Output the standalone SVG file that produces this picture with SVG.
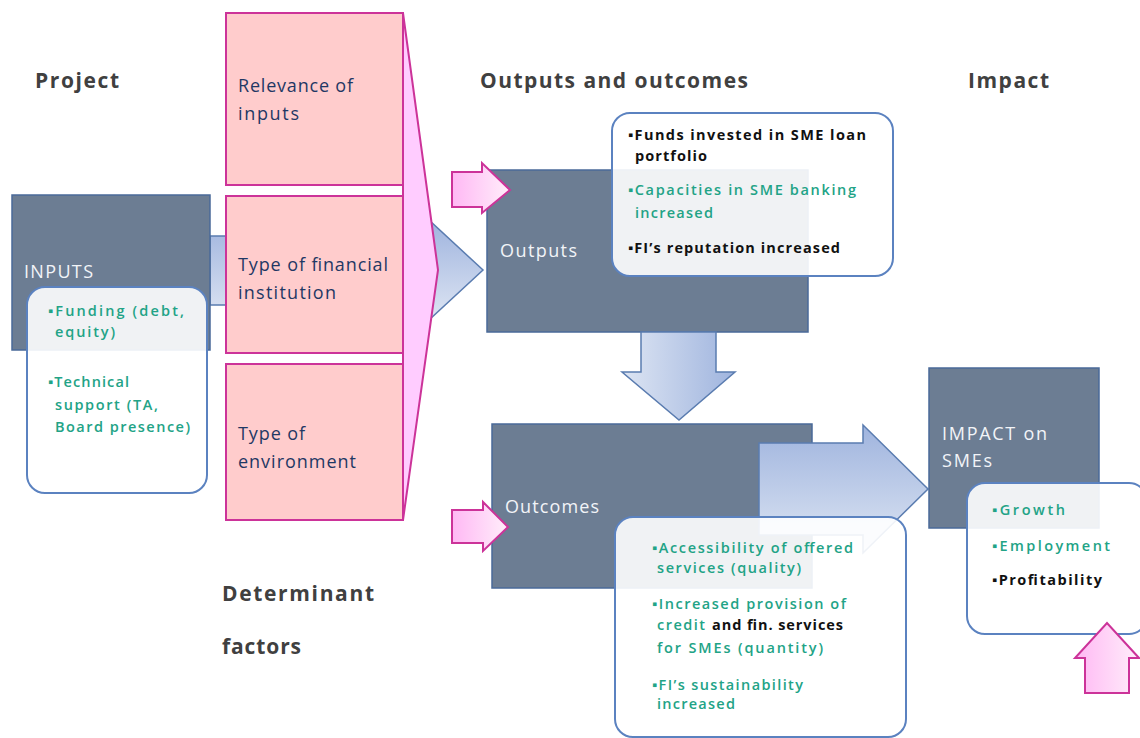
<svg xmlns="http://www.w3.org/2000/svg" width="1140" height="738" viewBox="0 0 1140 738">
<defs>
<linearGradient id="gV" x1="0" y1="0" x2="0" y2="1"><stop offset="0" stop-color="#9fb4de"/><stop offset="1" stop-color="#dde5f3"/></linearGradient>
<linearGradient id="gH" x1="0" y1="0" x2="1" y2="0"><stop offset="0" stop-color="#dde5f3"/><stop offset="1" stop-color="#9fb4de"/></linearGradient>
<linearGradient id="gPH" x1="0" y1="0" x2="1" y2="0"><stop offset="0" stop-color="#ffb8f4"/><stop offset="1" stop-color="#ffeefa"/></linearGradient>
<style>
text{font-family:"Open Sans","Liberation Sans",sans-serif}
.hdr{font-weight:bold;font-size:21px;fill:#404040}
.box{fill:#6c7d93;stroke:#4a6a99;stroke-width:1.5}
.boxt{font-size:18px;fill:#f2f4f8}
.pink{fill:#ffcccc;stroke:#cc3399;stroke-width:2}
.pt{font-size:18px;fill:#1f3864}
.call{fill:#ffffff;fill-opacity:0.9;stroke:#5b82c0;stroke-width:2}
.g{font-size:14.5px;fill:#22a386;font-weight:600}
.k{font-size:14.5px;fill:#111111;font-weight:bold}
.parr{fill:url(#gPH);stroke:#cc3399;stroke-width:2}
.barr{stroke:#5a7cb0;stroke-width:1.5}
</style>
</defs>
<g id="headers">
<text class="hdr" x="35" y="88" textLength="84">Project</text>
<text class="hdr" x="480" y="88" textLength="268">Outputs and outcomes</text>
<text class="hdr" x="968" y="88" textLength="81">Impact</text>
<text class="hdr" x="222" y="601" textLength="152">Determinant</text>
<text class="hdr" x="222" y="654" textLength="79">factors</text>
</g>
<g id="connectors">
<path class="barr" fill="url(#gV)" d="M210,236 H430 V221 L483,270 L430,319 V305 H210 Z"/>
</g>
<g id="inputs">
<rect class="box" x="12" y="195" width="198" height="155"/>
<text class="boxt" x="24" y="278" textLength="69">INPUTS</text>
<rect class="call" x="27" y="287" width="180" height="206" rx="18"/>
<text class="g" x="48" y="316" textLength="136">▪Funding (debt,</text>
<text class="g" x="55" y="337" textLength="60">equity)</text>
<text class="g" x="48" y="387" textLength="81">▪Technical</text>
<text class="g" x="55" y="410" textLength="103">support (TA,</text>
<text class="g" x="55" y="432" textLength="135">Board presence)</text>
</g>
<g id="determinants">
<path fill="#ffccff" stroke="#cc3399" stroke-width="2" d="M403,13 L438,270 L403,520 Z"/>
<g id="relevance"><rect class="pink" x="226" y="13" width="177" height="172"/>
<text class="pt" x="238" y="92" textLength="115">Relevance of</text><text class="pt" x="238" y="120" textLength="61">inputs</text></g>
<g id="fitype"><rect class="pink" x="226" y="196" width="177" height="157"/>
<text class="pt" x="238" y="271" textLength="150">Type of financial</text><text class="pt" x="238" y="299" textLength="98">institution</text></g>
<g id="environment"><rect class="pink" x="226" y="364" width="177" height="156"/>
<text class="pt" x="238" y="440" textLength="67">Type of</text><text class="pt" x="238" y="468" textLength="118">environment</text></g>
</g>
<g id="outputs">
<rect class="box" x="487" y="170" width="321" height="162"/>
<text class="boxt" x="500" y="257" textLength="77">Outputs</text>
<path class="parr" d="M452,172 H482 V163 L510,190 L482,213 V207 H452 Z"/>
<rect class="call" x="612" y="113" width="281" height="163" rx="18"/>
<text class="k" x="628" y="140" textLength="238">▪Funds invested in SME loan</text>
<text class="k" x="635" y="161" textLength="72">portfolio</text>
<text class="g" x="628" y="195" textLength="228">▪Capacities in SME banking</text>
<text class="g" x="635" y="218" textLength="78">increased</text>
<text class="k" x="628" y="253" textLength="212">▪FI’s reputation increased</text>
</g>
<g id="arrow-down">
<path class="barr" fill="url(#gH)" d="M641,332 H716 V372 H735 L679,420 L622,372 H641 Z"/>
</g>
<g id="outcomes">
<rect class="box" x="492" y="424" width="320" height="164"/>
<text class="boxt" x="505" y="513" textLength="94">Outcomes</text>
<path class="parr" d="M452,510 H483 V502 L508,527 L483,551 V543 H452 Z"/>
<path class="barr" fill="url(#gV)" d="M759,443 H863 V425 L928,489 L863,553 V535 H759 Z"/>
<rect class="call" x="615" y="517" width="291" height="220" rx="18"/>
<text class="g" x="652" y="553" textLength="201">▪Accessibility of offered</text>
<text class="g" x="657" y="573" textLength="144">services (quality)</text>
<text class="g" x="652" y="609" textLength="194">▪Increased provision of</text>
<text class="g" x="657" y="630" textLength="48">credit</text>
<text class="k" x="712" y="630" textLength="131">and fin. services</text>
<text class="g" x="657" y="653" textLength="166">for SMEs (quantity)</text>
<text class="g" x="652" y="690" textLength="151">▪FI’s sustainability</text>
<text class="g" x="657" y="709" textLength="78">increased</text>
</g>
<g id="impact">
<rect class="box" x="929" y="368" width="170" height="160"/>
<text class="boxt" x="942" y="440" textLength="105">IMPACT  on</text>
<text class="boxt" x="942" y="467" textLength="50">SMEs</text>
<rect class="call" x="967" y="483" width="180" height="151" rx="18"/>
<text class="g" x="992" y="515" textLength="73">▪Growth</text>
<text class="g" x="992" y="551" textLength="118">▪Employment</text>
<text class="k" x="992" y="585" textLength="110">▪Profitability</text>
<path class="parr" d="M1085,693 V658 H1075 L1107,623 L1139,658 H1129 V693 Z"/>
</g>
</svg>
